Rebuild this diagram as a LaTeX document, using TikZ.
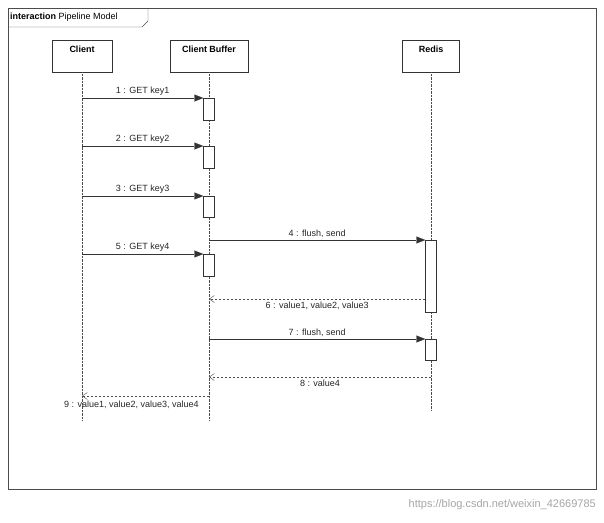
\documentclass[tikz,border=0pt]{standalone}
\usepackage{fontspec}
\setmainfont{Liberation Sans}
\usetikzlibrary{arrows.meta}
\begin{document}
\begin{tikzpicture}[x=1pt,y=-1pt,font=\fontsize{9}{10}\selectfont,
  lbox/.style={draw=black!80,fill=white,minimum width=#1,minimum height=32pt,inner sep=0pt,anchor=north,font=\fontsize{9}{10}\selectfont\bfseries,text depth=13pt},
  life/.style={densely dotted,black!70},
  act/.style={draw=black!80,fill=white},
  msg/.style={black!80,-{Triangle[length=9pt,width=7pt]}},
  ret/.style={black!70,densely dashed,dash pattern=on 2pt off 2pt,-{Straight Barb[length=5pt,width=7pt]}},
  lab/.style={text=black!85}]
\useasboundingbox (0,0) rectangle (604,522);
\fill[white] (0,0) rectangle (604,522);
\draw[black!70] (8,8) rectangle (596,489);
\draw[black!70] (8,27) -- (142,27) -- (148,21) -- (148,8);
\node[anchor=west,inner sep=0pt] (title) at (10,17) {\textbf{interaction} Pipeline Model};
% lifeline heads
\node[lbox=60pt] (c) at (82,40) {Client};
\node[lbox=78pt] (b) at (209,40) {Client Buffer};
\node[lbox=57pt] (r) at (431,40) {Redis};
\coordinate (ce) at (82,420);
\coordinate (be) at (209,420);
\coordinate (re) at (431,410);
\draw[life] (c.south) -- (ce);
\draw[life] (b.south) -- (be);
\draw[life] (r.south) -- (re);
% activations
\foreach \n/\a/\z in {a1/98/120,a2/146/168,a3/196/217,a5/254/276}
  \node[act,minimum width=11pt,minimum height=\z-\a,inner sep=0pt,anchor=north] (\n) at (209,\a) {};
\node[act,minimum width=11pt,minimum height=72pt,inner sep=0pt,anchor=north] (r4) at (431,240) {};
\node[act,minimum width=11pt,minimum height=21pt,inner sep=0pt,anchor=north] (r7) at (431,339) {};
% calls
\foreach \n/\y/\t in {a1/98/1,a2/146/2,a3/196/3,a5/254/5}{
  \coordinate (s\n) at (82,\y);
  \draw[msg] (s\n) -- (\n.north west) node[midway,above,lab,inner sep=2pt] {\t\ : GET key\ifnum\t=5 4\else\t\fi};
}
\coordinate (s4) at (209,240);
\draw[msg] (s4) -- (r4.north west) node[midway,above,lab,inner sep=2pt] {4 : flush, send};
\coordinate (s7) at (209,339);
\draw[msg] (s7) -- (r7.north west) node[midway,above,lab,inner sep=2pt] {7 : flush, send};
% returns
\coordinate (e6) at (209,299);
\draw[ret] (r4.west |- e6) -- (e6) node[midway,below,lab,inner sep=3pt] {6 : value1, value2, value3};
\coordinate (s8) at (431,377);
\coordinate (e8) at (209,377);
\draw[ret] (s8) -- (e8) node[midway,below,lab,inner sep=3pt] {8 : value4};
\coordinate (s9) at (209,396);
\coordinate (e9) at (82,396);
\draw[ret] (s9) -- (e9);
\node[anchor=north west,lab,inner sep=0pt] (l9) at (64,401) {9 : value1, value2, value3, value4};
\node[anchor=east,text=black!35,font=\fontsize{11}{13}\selectfont,inner sep=0pt] (wm) at (596,505) {https://blog.csdn.net/weixin\_42669785};
\end{tikzpicture}
\end{document}
